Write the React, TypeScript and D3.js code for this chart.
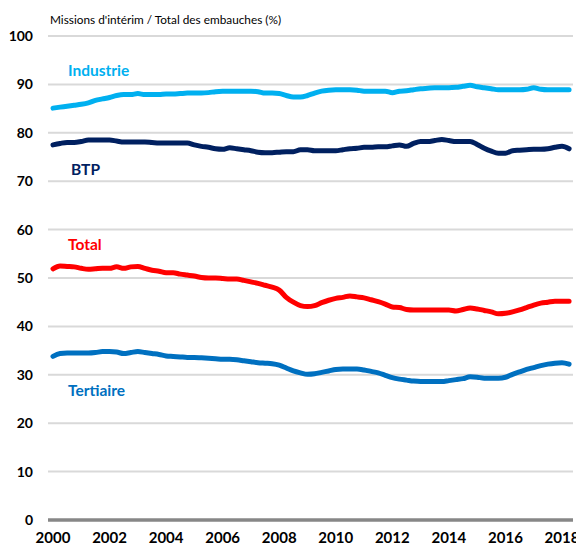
import React from 'react';
import * as d3 from 'd3';

// quarterly points, 2000Q1 .. 2018Q2
const startYear = 2000;
const industrie = [
  85.1, 85.3, 85.5, 85.7, 85.9, 86.2, 86.7, 87.0, 87.3, 87.7, 87.9, 87.9, 88.1, 87.9, 87.9, 87.9,
  88.0, 88.0, 88.1, 88.2, 88.2, 88.2, 88.3, 88.5, 88.6, 88.6, 88.6, 88.6, 88.6, 88.5, 88.2, 88.2,
  88.1, 87.7, 87.4, 87.4, 87.7, 88.2, 88.6, 88.8, 88.9, 88.9, 88.9, 88.8, 88.6, 88.6, 88.6, 88.6,
  88.3, 88.6, 88.7, 88.9, 89.1, 89.2, 89.3, 89.3, 89.3, 89.4, 89.6, 89.8, 89.5, 89.3, 89.1, 88.9,
  88.9, 88.9, 88.9, 89.0, 89.3, 89.0, 88.9, 88.9, 88.9, 88.9,
];
const btp = [
  77.5, 77.8, 78.0, 78.0, 78.2, 78.5, 78.5, 78.5, 78.5, 78.3, 78.1, 78.1, 78.1, 78.1, 78.0, 77.9,
  77.9, 77.9, 77.9, 77.9, 77.5, 77.2, 77.0, 76.7, 76.6, 76.9, 76.7, 76.5, 76.3, 76.0, 75.9, 75.9,
  76.0, 76.1, 76.1, 76.5, 76.5, 76.3, 76.3, 76.3, 76.3, 76.5, 76.7, 76.8, 77.0, 77.0, 77.1, 77.1,
  77.3, 77.5, 77.2, 77.8, 78.2, 78.2, 78.4, 78.6, 78.4, 78.2, 78.2, 78.2, 77.6, 76.8, 76.2, 75.8,
  75.8, 76.3, 76.4, 76.5, 76.6, 76.6, 76.7, 77.0, 77.2, 76.7,
];
const total = [
  51.9, 52.5, 52.4, 52.3, 52.0, 51.8, 51.9, 52.0, 52.0, 52.3, 52.0, 52.3, 52.4, 52.0, 51.6, 51.4,
  51.1, 51.1, 50.8, 50.6, 50.4, 50.1, 50.0, 50.0, 49.9, 49.8, 49.8, 49.5, 49.2, 48.9, 48.5, 48.1,
  47.5, 46.0, 45.0, 44.3, 44.1, 44.3, 44.9, 45.4, 45.8, 46.0, 46.3, 46.1, 45.9, 45.5, 45.1, 44.6,
  44.0, 43.9, 43.5, 43.4, 43.4, 43.4, 43.4, 43.4, 43.4, 43.2, 43.5, 43.8, 43.6, 43.3, 43.0, 42.6,
  42.7, 43.0, 43.4, 43.9, 44.4, 44.8, 45.0, 45.2, 45.2, 45.2,
];
const tertiaire = [
  33.8, 34.4, 34.5, 34.5, 34.5, 34.5, 34.6, 34.8, 34.8, 34.7, 34.4, 34.6, 34.8, 34.6, 34.4, 34.2,
  33.9, 33.8, 33.7, 33.6, 33.6, 33.5, 33.4, 33.3, 33.2, 33.2, 33.1, 32.9, 32.7, 32.5, 32.4, 32.3,
  32.0, 31.4, 30.8, 30.4, 30.1, 30.2, 30.5, 30.8, 31.1, 31.2, 31.2, 31.2, 31.0, 30.7, 30.4, 29.9,
  29.4, 29.1, 28.9, 28.7, 28.6, 28.6, 28.6, 28.6, 28.8, 29.0, 29.2, 29.6, 29.5, 29.3, 29.3, 29.3,
  29.5, 30.1, 30.6, 31.1, 31.5, 31.9, 32.2, 32.4, 32.5, 32.2,
];

const yTicks = [0, 10, 20, 30, 40, 50, 60, 70, 80, 90, 100];
const xTicks = [2000, 2002, 2004, 2006, 2008, 2010, 2012, 2014, 2016, 2018];
const title = "Missions d'intérim / Total des embauches (%)";

const series = [
  { name: 'Industrie', values: industrie, color: '#00B0F0', lx: 68, ly: 76 },
  { name: 'BTP', values: btp, color: '#002060', lx: 71, ly: 175 },
  { name: 'Total', values: total, color: '#FF0000', lx: 68, ly: 250 },
  { name: 'Tertiaire', values: tertiaire, color: '#0070C0', lx: 68, ly: 396 },
];

const W = 576;
const H = 546;
const font = 'Lato, "Open Sans", sans-serif';

export default function App() {
  const x = d3.scaleLinear().domain([2000, 2018]).range([53, 562]);
  const y = d3.scaleLinear().domain([0, 100]).range([520, 36]);

  const lineGen = d3
    .line<number>()
    .x((_, i) => x(startYear + i * 0.25))
    .y((d) => y(d))
    .curve(d3.curveMonotoneX);

  return (
    <svg
      width={W}
      height={H}
      style={{ position: 'absolute', left: 0, top: 0, background: '#fff' }}
      fontFamily={font}
    >
      <text x={50} y={24} fontSize={11.8} fill="#000">{title}</text>

      {yTicks.map((t) => (
        <g key={t}>
          <line
            x1={48}
            x2={573}
            y1={y(t)}
            y2={y(t)}
            stroke={t === 0 ? '#878787' : '#D9D9D9'}
            strokeWidth={t === 0 ? 3.5 : 2}
          />
          <text
            x={33}
            y={y(t)}
            dy="0.35em"
            textAnchor="end"
            fontSize={14}
            fontWeight="bold"
            fill="#000"
          >
            {t}
          </text>
        </g>
      ))}

      {xTicks.map((t) => (
        <text
          key={t}
          x={x(t)}
          y={543}
          textAnchor="middle"
          fontSize={15}
          fontWeight="bold"
          fill="#000"
        >
          {t}
        </text>
      ))}

      {series.map((s) => (
        <g key={s.name}>
          <path
            d={lineGen(s.values) || ''}
            fill="none"
            stroke={s.color}
            strokeWidth={5}
            strokeLinejoin="round"
            strokeLinecap="round"
          />
          <text x={s.lx} y={s.ly} fontSize={15.5} fontWeight="bold" fill={s.color}>
            {s.name}
          </text>
        </g>
      ))}
    </svg>
  );
}
